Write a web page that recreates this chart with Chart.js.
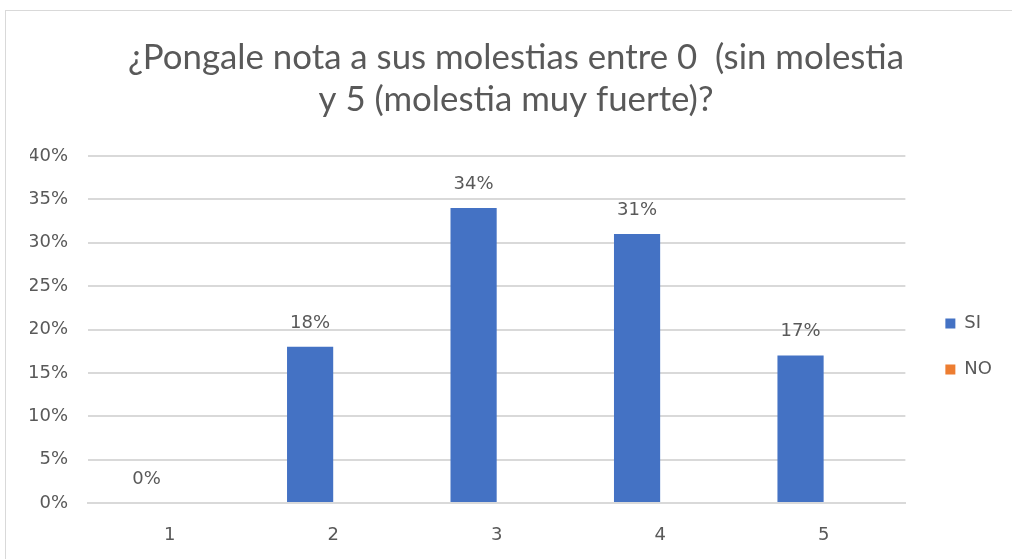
<!DOCTYPE html>
<html lang="es">
<head>
  <meta charset="UTF-8">
  <title>Molestias</title>
  <script src="https://cdn.jsdelivr.net/npm/chart.js"></script>
  <style>
    body { margin: 0; background: #fff; overflow: hidden; }
    #marco { position: absolute; left: 5px; top: 10px; width: 1010px; height: 560px; border: 1px solid #d9d9d9; }
    #marco canvas { display: block; }
  </style>
</head>
<body>
  <div id="marco"><canvas id="grafica" width="1006" height="548"></canvas></div>

  <script>
    const categorias = ['1', '2', '3', '4', '5'];
    const valoresSi = [0, 0.18, 0.34, 0.31, 0.17];
    const valoresNo = [null, null, null, null, null];
    const titulo = ['¿Pongale nota a sus molestias entre 0  (sin molestia', 'y 5 (molestia muy fuerte)?'];

    const gris = '#595959';
    const letra = { family: 'DejaVu Sans', size: 18 };

    // etiquetas de datos encima de las barras SI
    const etiquetas = {
      id: 'etiquetas',
      afterDatasetsDraw(chart) {
        const ctx = chart.ctx;
        const meta = chart.getDatasetMeta(0);
        ctx.save();
        ctx.font = letra.size + 'px "' + letra.family + '"';
        ctx.fillStyle = gris;
        ctx.textAlign = 'center';
        ctx.textBaseline = 'bottom';
        meta.data.forEach((bar, i) => {
          const v = valoresSi[i];
          if (v === null) return;
          ctx.fillText(Math.round(v * 100) + '%', bar.x, bar.y - 15);
        });
        ctx.restore();
      }
    };

    const ctx = document.getElementById('grafica').getContext('2d');
    new Chart(ctx, {
      type: 'bar',
      data: {
        labels: categorias,
        datasets: [
          { label: 'SI', data: valoresSi, backgroundColor: '#4472c4', barPercentage: 1, categoryPercentage: 0.565 },
          { label: 'NO', data: valoresNo, backgroundColor: '#ed7d31', barPercentage: 1, categoryPercentage: 0.565 }
        ]
      },
      options: {
        responsive: false,
        animation: false,
        layout: { padding: { left: 24, right: 10, top: 0, bottom: 0 } },
        plugins: {
          title: {
            display: true,
            text: titulo,
            color: gris,
            font: { family: 'Lato', size: 34.8, weight: 'normal', lineHeight: 1.207 },
            padding: { top: 26, bottom: 35 }
          },
          legend: {
            position: 'right',
            title: { display: true, text: ' ', font: { size: 10, lineHeight: 1.2 }, padding: { top: 56, bottom: 55 } },
            labels: {
              color: gris,
              font: letra,
              boxWidth: 10,
              boxHeight: 10,
              padding: 28
            }
          },
          tooltip: { enabled: false }
        },
        scales: {
          x: {
            grid: { display: false },
            border: { color: '#d9d9d9', width: 2 },
            ticks: { color: gris, font: letra, padding: 14 },
            afterFit(scale) { scale.height = 56; }
          },
          y: {
            min: 0,
            max: 0.4,
            ticks: {
              stepSize: 0.05,
              color: gris,
              font: letra,
              padding: 20,
              callback: v => Math.round(v * 100) + '%'
            },
            grid: { color: '#d9d9d9', lineWidth: 2, drawTicks: false },
            border: { display: false },
            afterFit(scale) { scale.width = 58; }
          },
          // hueco vacío entre el área del gráfico y la leyenda
          hueco: {
            position: 'right',
            display: true,
            grid: { display: false },
            border: { display: false },
            ticks: { display: false },
            afterFit(scale) { scale.width = 12; }
          }
        }
      },
      plugins: [etiquetas]
    });
  </script>
</body>
</html>
